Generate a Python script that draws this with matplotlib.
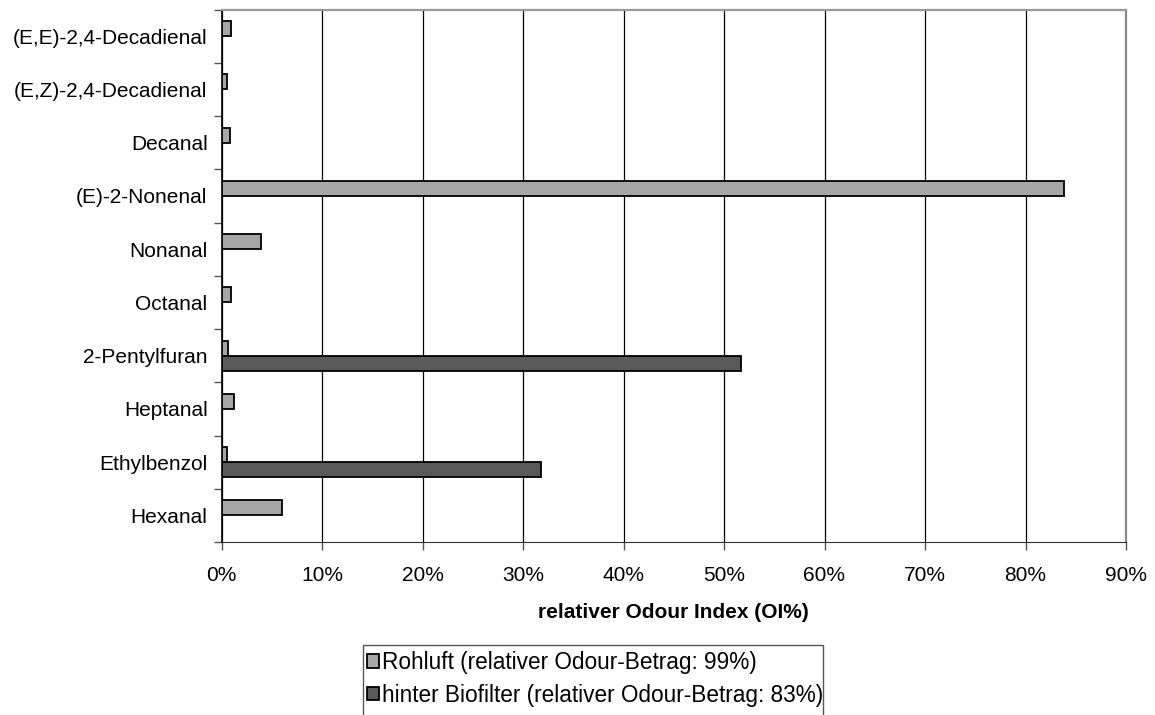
import numpy as np
import matplotlib.pyplot as plt
from matplotlib.patches import Rectangle
from matplotlib.ticker import PercentFormatter

plt.rcParams['font.family'] = ['Liberation Sans', 'DejaVu Sans']

# Substanzen von unten nach oben
substanzen = ['Hexanal', 'Ethylbenzol', 'Heptanal', '2-Pentylfuran', 'Octanal',
              'Nonanal', '(E)-2-Nonenal', 'Decanal', '(E,Z)-2,4-Decadienal',
              '(E,E)-2,4-Decadienal']
rohluft = [6.0, 0.55, 1.2, 0.65, 0.95, 3.9, 83.8, 0.8, 0.55, 0.9]
biofilter = [0, 31.8, 0, 51.7, 0, 0, 0, 0, 0, 0]

namen = ['Rohluft (relativer Odour-Betrag: 99%)',
         'hinter Biofilter (relativer Odour-Betrag: 83%)']

W, H = 1155, 715
fig = plt.figure(figsize=(W / 100, H / 100), dpi=100)
ax = fig.add_axes([221.5 / W, 1 - 542 / H, (1126 - 221.5) / W, (542 - 9.5) / H])

y = np.arange(len(substanzen))
h = 0.28
ax.barh(y + h / 2, rohluft, height=h, color='#a6a6a6', edgecolor='black',
        linewidth=1.3, label=namen[0], zorder=3)
ax.barh(y - h / 2, biofilter, height=h, color='#595959', edgecolor='black',
        linewidth=1.3, label=namen[1], zorder=3)

ax.set_xlim(0, 90)
ax.set_ylim(-0.5, len(substanzen) - 0.5)
ax.set_xticks(np.arange(0, 91, 10))
ax.xaxis.set_major_formatter(PercentFormatter(decimals=0))
ax.grid(axis='x', color='black', linewidth=0.9, zorder=0)

# Kategorienbeschriftung mittig, Teilstriche an den Grenzen
ax.set_yticks(y)
ax.set_yticklabels(substanzen)
ax.tick_params(axis='y', length=0, pad=10, labelsize=15)
ax.set_yticks(np.arange(-0.5, len(substanzen), 1), minor=True)
ax.tick_params(axis='y', which='minor', length=6, width=1, color='#555555')
ax.tick_params(axis='x', length=6, width=1, color='#555555', labelsize=15, pad=11)

ax.spines['right'].set_color('#888888')
ax.spines['right'].set_linewidth(1.6)
ax.spines['top'].set_color('#999999')
ax.spines['top'].set_linewidth(1.6)
ax.spines['bottom'].set_color('#333333')
ax.spines['left'].set_color('black')
ax.spines['left'].set_linewidth(1.2)

ax.set_xlabel('relativer Odour Index (OI%)', fontweight='bold', fontsize=15, labelpad=13)

# Legende ohne eigenen Rahmen, Rahmen separat (unten abgeschnitten)
leg = fig.legend(loc='upper left', bbox_to_anchor=(367 / W, 1 - 651 / H),
                 fontsize=16.3, frameon=False,
                 handlelength=0.55, handleheight=0.55, handletextpad=0.12,
                 borderpad=0, labelspacing=0.42, borderaxespad=0)
fig.patches.append(Rectangle((363 / W, -0.02), (823 - 363) / W, 0.02 + 1 - 645 / H,
                             transform=fig.transFigure, fill=False,
                             edgecolor='#555555', linewidth=1))

fig.savefig('out.png', dpi=100)
